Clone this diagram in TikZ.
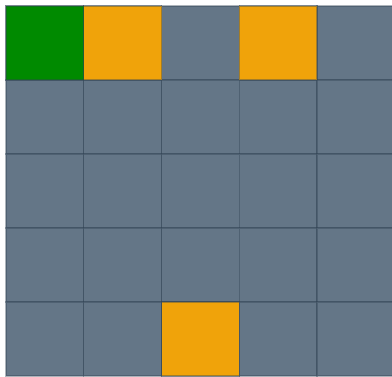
\documentclass[tikz,border=0pt]{standalone}
\usepackage{xcolor}
\usetikzlibrary{positioning}
\definecolor{slate} {RGB}{100,118,135}
\definecolor{amber} {RGB}{240,163,10}
\definecolor{ggreen}{RGB}{0,138,0}
\definecolor{edge}  {RGB}{49,67,84}

\tikzset{
  cell/.style={draw=edge, draw opacity=0.4, line width=1.2pt, fill=slate,
               minimum width=77.75pt, minimum height=74pt,
               inner sep=0pt, outer sep=0pt, anchor=north west},
  start/.style={cell, fill=ggreen},
  goal/.style={cell, fill=amber}
}

\begin{document}
\begin{tikzpicture}[x=1pt, y=-1pt]
  \useasboundingbox (0,0) rectangle (392,376);
  \clip (0,0) rectangle (392,376);
  % 5x5 board
  \foreach \r in {0,...,4} {
    \foreach \c in {0,...,4} {
      \node[cell] (c-\r-\c) at ({6+77.75*\c},{6+74*\r}) {};
    }
  }
  % marked squares
  \node[start] (c-0-0) at (6,6) {};
  \node[goal]  (c-0-1) at ({6+77.75},6) {};
  \node[goal]  (c-0-3) at ({6+3*77.75},6) {};
  \node[goal]  (c-4-2) at ({6+2*77.75},{6+4*74}) {};
\end{tikzpicture}
\end{document}
